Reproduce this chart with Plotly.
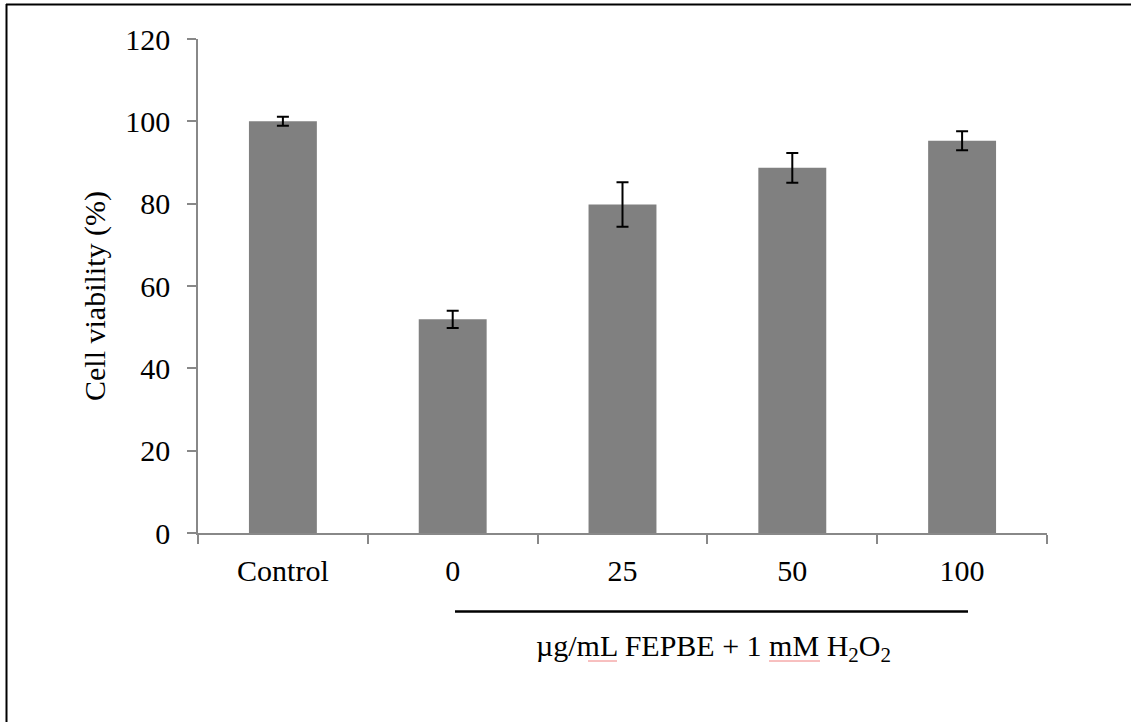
import plotly.graph_objects as go

# Cell viability after H2O2 challenge with FEPBE pre-treatment
categories = ["Control", "0", "25", "50", "100"]
viability = [100.0, 51.9, 79.8, 88.7, 95.3]
viability_err = [1.1, 2.1, 5.4, 3.6, 2.3]
y_ticks = [0, 20, 40, 60, 80, 100, 120]

FONT = "Liberation Serif, Times New Roman, serif"
AXIS_GREY = "#888888"

W, H = 1139, 722
L, R, T, B = 198, 92, 39, 189
pw, ph = W - L - R, H - T - B


def px_x(x):
    return (x - L) / pw


def px_y(y):
    return (H - B - y) / ph


fig = go.Figure(
    go.Bar(
        x=categories,
        y=viability,
        marker=dict(color="#808080", line=dict(width=0)),
        error_y=dict(type="data", array=viability_err, color="black",
                     thickness=2, width=6, visible=True),
    )
)

fig.update_layout(
    width=W, height=H,
    margin=dict(l=L, r=R, t=T, b=B, pad=0),
    paper_bgcolor="white", plot_bgcolor="white",
    bargap=0.6,
    showlegend=False,
    font=dict(family=FONT, size=30, color="black"),
    xaxis=dict(
        type="category",
        showline=True, linecolor=AXIS_GREY, linewidth=1.5,
        ticks="outside", tickson="boundaries", ticklen=9,
        tickcolor=AXIS_GREY, tickwidth=1.5,
        showgrid=False, zeroline=False,
        ticklabelstandoff=10,
        tickfont=dict(family=FONT, size=30, color="black"),
    ),
    yaxis=dict(
        range=[0, 120], tickvals=y_ticks,
        showline=True, linecolor=AXIS_GREY, linewidth=1.5,
        ticks="outside", ticklen=9, tickcolor=AXIS_GREY, tickwidth=1.5,
        showgrid=False, zeroline=False,
        ticklabelstandoff=11,
        tickfont=dict(family=FONT, size=30, color="black"),
    ),
)

# y-axis title
fig.add_annotation(
    text="Cell viability (%)", textangle=-90,
    xref="paper", yref="paper", x=px_x(95), y=px_y(296),
    xanchor="center", yanchor="middle", showarrow=False,
    font=dict(family=FONT, size=30, color="black"),
)

# bracket line grouping the treated samples
fig.add_shape(type="line", xref="paper", yref="paper",
              x0=px_x(455), x1=px_x(968), y0=px_y(611.5), y1=px_y(611.5),
              line=dict(color="black", width=2.5))

# treatment label
fig.add_annotation(
    text="\u00b5g/mL FEPBE + 1 mM H<sub>2</sub>O<sub>2</sub>",
    xref="paper", yref="paper", x=px_x(713), y=px_y(648),
    xanchor="center", yanchor="middle", showarrow=False,
    font=dict(family=FONT, size=30, color="black"),
)

# faint red spell-check underlines under "mL" and "mM"
for x0, x1 in [(588, 617), (769, 820)]:
    fig.add_shape(type="line", xref="paper", yref="paper",
                  x0=px_x(x0), x1=px_x(x1), y0=px_y(661), y1=px_y(661),
                  line=dict(color="#f08080", width=1))

# outer frame (top and left edges)
fig.add_shape(type="line", xref="paper", yref="paper",
              x0=px_x(6), x1=px_x(1131), y0=px_y(4.5), y1=px_y(4.5),
              line=dict(color="black", width=2))
fig.add_shape(type="line", xref="paper", yref="paper",
              x0=px_x(6.5), x1=px_x(6.5), y0=px_y(4), y1=px_y(722),
              line=dict(color="black", width=2))

fig.write_html("out.html")
